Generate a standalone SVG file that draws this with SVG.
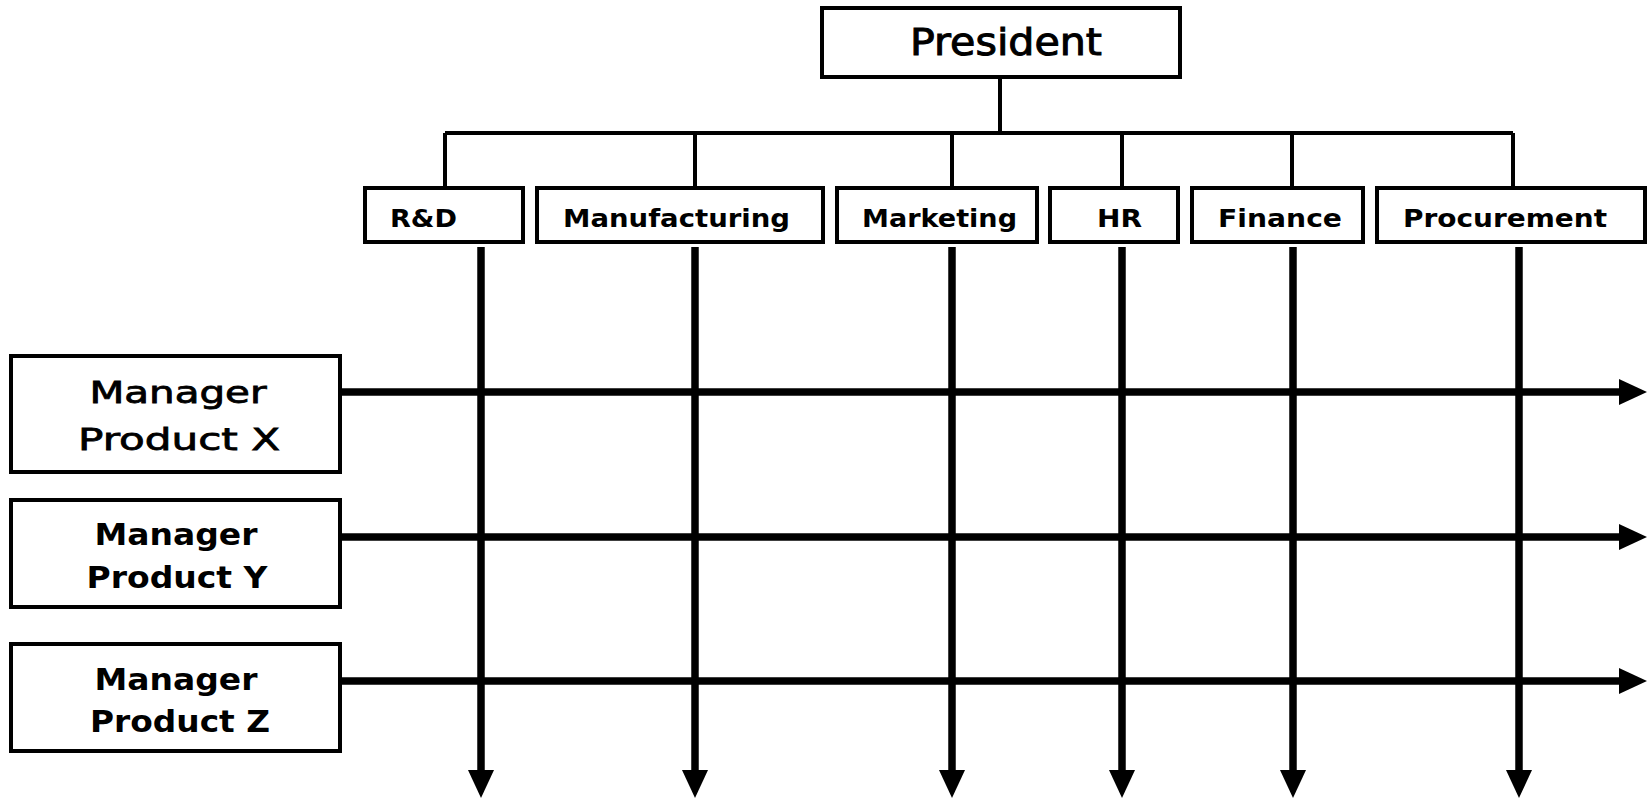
<svg xmlns="http://www.w3.org/2000/svg" width="1651" height="798" viewBox="0 0 1651 798">
<style>
.box{fill:#fff;stroke:#000;stroke-width:4}
.bus{fill:none;stroke:#000;stroke-width:4}
.arr{fill:none;stroke:#000;stroke-width:7.5}
.t{font-family:"DejaVu Sans","Liberation Sans",sans-serif;fill:#000}
.dept{font-size:25px;font-weight:bold}
.mgr{font-size:30px;font-weight:bold;text-anchor:middle}
.mgrx{font-size:31px;text-anchor:middle;stroke:#000;stroke-width:0.8}
.pres{font-size:38px;text-anchor:middle;stroke:#000;stroke-width:1}
</style>
<defs>
<marker id="ah" markerUnits="userSpaceOnUse" markerWidth="28" markerHeight="26" refX="0" refY="13" orient="auto">
<path d="M0,0 L28,13 L0,26 z" fill="#000"/>
</marker>
</defs>
<rect width="1651" height="798" fill="#fff"/>
<g id="connectors">
<path class="bus" d="M1000,77 V133 M445,133 H1513 M445,133 V188 M695,133 V188 M952,133 V188 M1122,133 V188 M1292,133 V188 M1513,133 V188"/>
<line class="arr" x1="481" y1="247" x2="481" y2="770" marker-end="url(#ah)"/>
<line class="arr" x1="695" y1="247" x2="695" y2="770" marker-end="url(#ah)"/>
<line class="arr" x1="952" y1="247" x2="952" y2="770" marker-end="url(#ah)"/>
<line class="arr" x1="1122" y1="247" x2="1122" y2="770" marker-end="url(#ah)"/>
<line class="arr" x1="1293" y1="247" x2="1293" y2="770" marker-end="url(#ah)"/>
<line class="arr" x1="1519" y1="247" x2="1519" y2="770" marker-end="url(#ah)"/>
<line class="arr" x1="340" y1="392" x2="1619" y2="392" marker-end="url(#ah)"/>
<line class="arr" x1="340" y1="537" x2="1619" y2="537" marker-end="url(#ah)"/>
<line class="arr" x1="340" y1="681" x2="1619" y2="681" marker-end="url(#ah)"/>
</g>
<g id="president">
<rect class="box" x="822" y="8" width="358" height="69"/>
<text class="t pres" x="1006" y="55" textLength="192" lengthAdjust="spacingAndGlyphs">President</text>
</g>
<g id="rnd">
<rect class="box" x="365" y="188" width="158" height="54"/>
<text class="t dept" x="390" y="227" textLength="67" lengthAdjust="spacingAndGlyphs">R&amp;D</text>
</g>
<g id="manufacturing">
<rect class="box" x="537" y="188" width="286" height="54"/>
<text class="t dept" x="563" y="227" textLength="227" lengthAdjust="spacingAndGlyphs">Manufacturing</text>
</g>
<g id="marketing">
<rect class="box" x="837" y="188" width="200" height="54"/>
<text class="t dept" x="862" y="227" textLength="155" lengthAdjust="spacingAndGlyphs">Marketing</text>
</g>
<g id="hr">
<rect class="box" x="1050" y="188" width="128" height="54"/>
<text class="t dept" x="1097" y="227" textLength="45" lengthAdjust="spacingAndGlyphs">HR</text>
</g>
<g id="finance">
<rect class="box" x="1192" y="188" width="171" height="54"/>
<text class="t dept" x="1218" y="227" textLength="124" lengthAdjust="spacingAndGlyphs">Finance</text>
</g>
<g id="procurement">
<rect class="box" x="1377" y="188" width="268" height="54"/>
<text class="t dept" x="1403" y="227" textLength="204" lengthAdjust="spacingAndGlyphs">Procurement</text>
</g>
<g id="mgr-x">
<rect class="box" x="11" y="356" width="329" height="116"/>
<text class="t mgrx" x="178" y="403" textLength="177" lengthAdjust="spacingAndGlyphs">Manager</text>
<text class="t mgrx" x="179" y="450" textLength="202" lengthAdjust="spacingAndGlyphs">Product X</text>
</g>
<g id="mgr-y">
<rect class="box" x="11" y="500" width="329" height="107"/>
<text class="t mgr" x="176" y="545" textLength="163" lengthAdjust="spacingAndGlyphs">Manager</text>
<text class="t mgr" x="177" y="588" textLength="181" lengthAdjust="spacingAndGlyphs">Product Y</text>
</g>
<g id="mgr-z">
<rect class="box" x="11" y="644" width="329" height="107"/>
<text class="t mgr" x="176" y="690" textLength="163" lengthAdjust="spacingAndGlyphs">Manager</text>
<text class="t mgr" x="180" y="732" textLength="180" lengthAdjust="spacingAndGlyphs">Product Z</text>
</g>
</svg>
